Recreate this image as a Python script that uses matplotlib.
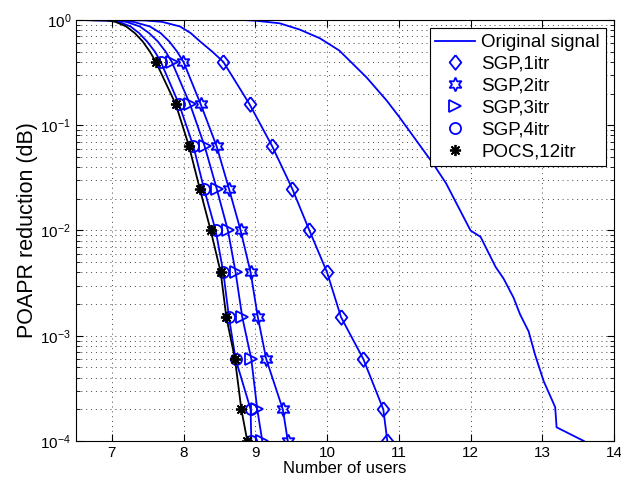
import matplotlib
matplotlib.use('Agg')
import matplotlib.pyplot as plt
from matplotlib.ticker import LogLocator, NullFormatter, FixedLocator

plt.rcParams['font.family'] = ['Liberation Sans', 'DejaVu Sans']
plt.rcParams['mathtext.fontset'] = 'custom'
plt.rcParams['mathtext.rm'] = 'Liberation Sans'

# probability levels where the markers sit
levels = [0.4, 0.158, 0.063, 0.025, 0.01, 0.004, 0.0015, 0.0006, 0.0002, 0.0001]

# x of each series at those levels
sgp1_x = [8.554, 8.92, 9.236, 9.514, 9.754, 10.0, 10.195, 10.506, 10.784, 10.84]
sgp2_x = [7.998, 8.239, 8.461, 8.632, 8.795, 8.934, 9.035, 9.152, 9.383, 9.453]
sgp3_x = [7.835, 8.09, 8.294, 8.461, 8.618, 8.725, 8.818, 8.944, 9.027, 9.097]
sgp4_x = [7.682, 7.937, 8.137, 8.284, 8.447, 8.554, 8.632, 8.725, 8.934, 8.944]
pocs_x = [7.613, 7.891, 8.076, 8.225, 8.378, 8.517, 8.596, 8.716, 8.805, 8.888]

# upper (unmarked) part of each curve
top_y = [1.0, 0.99, 0.96, 0.868, 0.75, 0.625, 0.5]
sgp1_top = [6.5, 7.45, 7.70, 7.95, 8.10, 8.23, 8.40]
sgp2_top = [6.5, 7.10, 7.30, 7.53, 7.68, 7.80, 7.91]
sgp3_top = [6.5, 7.05, 7.20, 7.39, 7.52, 7.64, 7.75]
sgp4_top = [6.5, 6.98, 7.10, 7.26, 7.38, 7.49, 7.60]
pocs_top = [6.5, 6.93, 7.05, 7.20, 7.32, 7.43, 7.53]

# original signal CCDF
orig_x = [6.5, 8.83, 9.0, 9.34, 9.62, 9.9, 10.17, 10.55, 10.83, 11.01, 11.48, 11.66,
          12.0, 12.14, 12.35, 12.46, 12.60, 12.69, 12.81, 12.90, 13.02, 13.18, 13.20, 13.58]
orig_y = [1.0, 0.999, 0.985, 0.93, 0.81, 0.67, 0.513, 0.285, 0.172, 0.119, 0.043, 0.028,
          0.010, 0.0087, 0.0045, 0.0035, 0.0023, 0.0016, 0.0011, 0.00066, 0.00037, 0.00021,
          0.000135, 0.0001]

series = [
    ('SGP,1itr', sgp1_top, sgp1_x, 'blue', [(0, 1), (0.8, 0), (0, -1), (-0.8, 0), (0, 1)], 10.5),
    ('SGP,2itr', sgp2_top, sgp2_x, 'blue', (6, 1, 0), 10),
    ('SGP,3itr', sgp3_top, sgp3_x, 'blue', '>', 8.5),
    ('SGP,4itr', sgp4_top, sgp4_x, 'blue', 'o', 8),
    ('POCS,12itr', pocs_top, pocs_x, 'black', (8, 2, 0), 8),
]

fig = plt.figure(figsize=(6.21, 4.91), dpi=100)
ax = fig.add_axes([0.1224, 0.1018, 0.8663, 0.8575])

ax.semilogy(orig_x, orig_y, color='blue', lw=1.3, label='Original signal')

for name, tx, mx, col, mk, ms in series:
    ax.semilogy(tx + mx, top_y + levels, color=col, lw=1.3)
for name, tx, mx, col, mk, ms in series:
    ax.semilogy(mx, levels, ls='none', marker=mk, ms=ms, mfc='none', mec=col,
                mew=1.3, label=name)

ax.set_xlim(6.5, 14)
ax.set_ylim(1e-4, 1)
ax.xaxis.set_major_locator(FixedLocator([7, 8, 9, 10, 11, 12, 13, 14]))
ax.yaxis.set_major_locator(LogLocator(base=10, numticks=10))
ax.yaxis.set_minor_locator(LogLocator(base=10, subs=range(2, 10), numticks=10))
ax.yaxis.set_minor_formatter(NullFormatter())

ax.grid(True, which='major', axis='both', ls=(0, (1, 4)), color='#444444', lw=0.7)
ax.grid(True, which='minor', axis='y', ls=(0, (1, 4)), color='#444444', lw=0.7)
ax.tick_params(which='both', direction='in', top=True, right=True, labelsize=11)
ax.tick_params(which='major', length=5)
ax.tick_params(which='minor', length=3)

ax.set_xlabel('Number of users', fontsize=12, labelpad=1)
ax.set_ylabel('POAPR reduction (dB)', fontsize=15.5, labelpad=2)

leg = ax.legend(loc='upper right', fontsize=13.5, frameon=True, fancybox=False,
                edgecolor='black', framealpha=1, borderaxespad=0.45,
                handlelength=2.1, handletextpad=0.35, labelspacing=0.25,
                borderpad=0.3)
leg.get_frame().set_linewidth(0.8)

fig.savefig('out.png', dpi=100)
